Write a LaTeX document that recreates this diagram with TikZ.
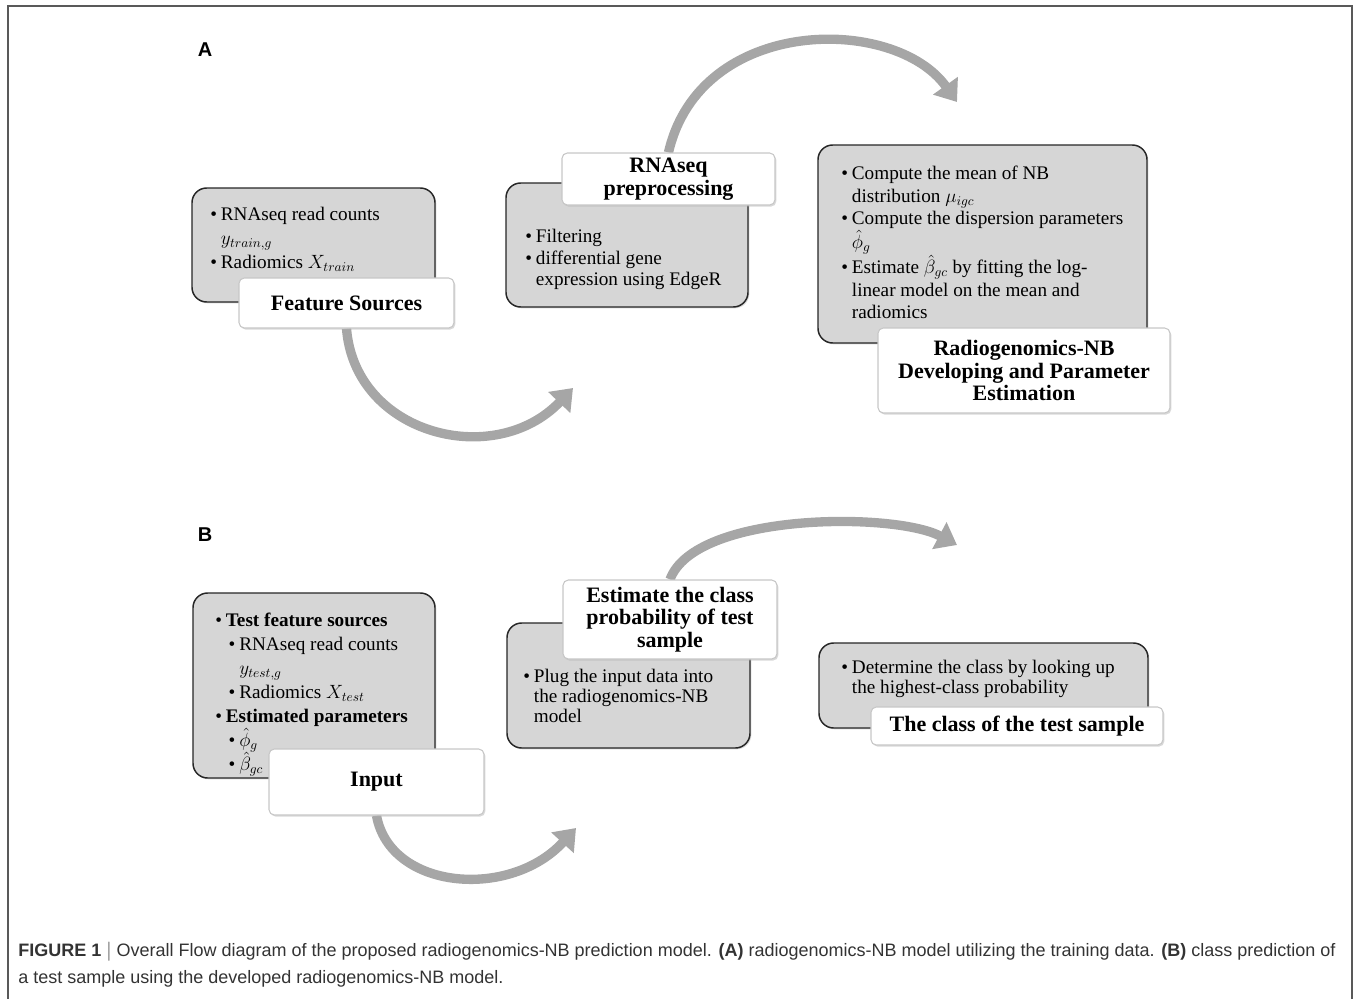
\documentclass[tikz,border=0pt]{standalone}
\usepackage{fontspec}
\setmainfont{Liberation Serif}
\newfontfamily\capfont{Liberation Sans}
\usetikzlibrary{arrows.meta,shadows,backgrounds}
\definecolor{boxgray}{RGB}{214,214,214}
\definecolor{arrgray}{RGB}{166,166,166}
\definecolor{capgray}{RGB}{51,51,51}
\newcommand{\bu}{\makebox[8pt][l]{\textbullet}}
\newcommand{\ii}{\hspace*{8pt}}
\begin{document}
\begin{tikzpicture}[x=0.75pt,y=-0.75pt,
  gbox/.style={draw=black!85, line width=1.1pt, fill=boxgray, rounded corners=11pt,
    drop shadow={shadow xshift=1pt,shadow yshift=-1pt,fill=black!30}},
  lbl/.style={draw=black!22, line width=0.8pt, fill=white, rounded corners=4pt,
    align=center, inner sep=0pt, font=\fontsize{16.5}{17}\selectfont\bfseries,
    drop shadow={shadow xshift=1pt,shadow yshift=-1.2pt,fill=black!30}},
  txt/.style={anchor=north west, align=left, inner sep=0pt},
  flow/.style={draw=arrgray, line width=7pt, -{Triangle[width=22pt,length=15pt]}},
  panel/.style={font=\fontsize{15}{15}\capfont\bfseries},
]
\useasboundingbox (0,0) rectangle (1357,999);
\draw[black!65, line width=1.1pt] (8,1005) -- (8,6) -- (1352,6) -- (1352,1005);

% panel letters
\node[panel] (pA) at (205,50) {A};
\node[panel] (pB) at (205,535) {B};

% ---------- Panel A ----------
\node[gbox, minimum width=243*0.75pt, minimum height=114*0.75pt] (b1) at (313.5,245) {};
\node[txt, font=\fontsize{14.4}{18}\selectfont] (t1) at (210,207)
  {\bu RNAseq read counts\\ \ii$y_{train,g}$\\ \bu Radiomics $X_{train}$};
\node[lbl, minimum width=215*0.75pt, minimum height=50*0.75pt] (l1) at (346.5,303) {Feature Sources};

\node[gbox, minimum width=242*0.75pt, minimum height=124*0.75pt] (b2) at (627,245) {};
\node[txt, font=\fontsize{14.4}{16.2}\selectfont] (t2) at (525,229)
  {\bu Filtering\\ \bu differential gene\\ \ii expression using EdgeR};
\node[lbl, minimum width=213*0.75pt, minimum height=52*0.75pt] (l2) at (668.5,179) {RNAseq\\preprocessing};

\node[gbox, minimum width=329*0.75pt, minimum height=198*0.75pt] (b3) at (982.5,244) {};
\node[txt, font=\fontsize{14.4}{16.8}\selectfont] (t3) at (841,166)
  {\bu Compute the mean of NB\\ \ii distribution $\mu_{igc}$\\
   \bu Compute the dispersion parameters\\ \ii$\hat{\phi}_g$\\
   \bu Estimate $\hat{\beta}_{gc}$ by fitting the log-\\ \ii linear model on the mean and\\ \ii radiomics};
\node[lbl, minimum width=292*0.75pt, minimum height=85*0.75pt] (l3) at (1024,370.5)
  {Radiogenomics-NB\\Developing and Parameter\\Estimation};

% ---------- Panel B ----------
\node[gbox, minimum width=242*0.75pt, minimum height=185*0.75pt] (b4) at (314,685.5) {};
\node[txt, font=\fontsize{14.4}{18}\selectfont] (t4) at (215,613)
  {\bu\textbf{Test feature sources}\\
   \hspace*{10pt}\bu RNAseq read counts\\
   \hspace*{18pt}$y_{test,g}$\\
   \hspace*{10pt}\bu Radiomics $X_{test}$\\
   \bu\textbf{Estimated parameters}\\
   \hspace*{10pt}\bu$\hat{\phi}_g$\\
   \hspace*{10pt}\bu$\hat{\beta}_{gc}$};
\node[lbl, minimum width=215*0.75pt, minimum height=66*0.75pt] (l4) at (376.5,782) {Input};

\node[gbox, minimum width=243*0.75pt, minimum height=125*0.75pt] (b5) at (628.5,685.5) {};
\node[txt, font=\fontsize{14.4}{14.8}\selectfont] (t5) at (523,669)
  {\bu Plug the input data into\\ \ii the radiogenomics-NB\\ \ii model};
\node[lbl, minimum width=214*0.75pt, minimum height=79*0.75pt] (l5) at (670,619.5)
  {Estimate the class\\probability of test\\sample};

\node[gbox, minimum width=329*0.75pt, minimum height=85*0.75pt] (b6) at (983.5,685.5) {};
\node[txt, font=\fontsize{14.4}{15}\selectfont] (t6) at (841,660)
  {\bu Determine the class by looking up\\ \ii the highest-class probability};
\node[lbl, minimum width=292*0.75pt, minimum height=38*0.75pt] (l6) at (1017,726) {The class of the test sample};

% arrow end points
\coordinate (e1) at (573,388);
\coordinate (e2) at (957,102);
\coordinate (e3) at (576,828);
\coordinate (e4) at (957,545);

\begin{pgfonlayer}{background}
\draw[flow] (l1.south) .. controls (355,435) and (495,470) .. (e1);
\draw[flow] (l2.north) .. controls (700,15) and (895,15) .. (e2);
\draw[flow] (l4.south) .. controls (390,890) and (510,900) .. (e3);
\draw[flow] (l5.north) .. controls (695,512) and (895,512) .. (e4);
\end{pgfonlayer}

% caption
\node[anchor=north west, align=left, inner sep=0pt, text=capgray,
      font=\fontsize{13.5}{20.2}\capfont] (cap) at (18,942)
  {\textbf{FIGURE 1} $|$ Overall Flow diagram of the proposed radiogenomics-NB prediction model. \textbf{(A)} radiogenomics-NB model utilizing the training data. \textbf{(B)} class prediction of\\
   a test sample using the developed radiogenomics-NB model.};
\end{tikzpicture}
\end{document}
